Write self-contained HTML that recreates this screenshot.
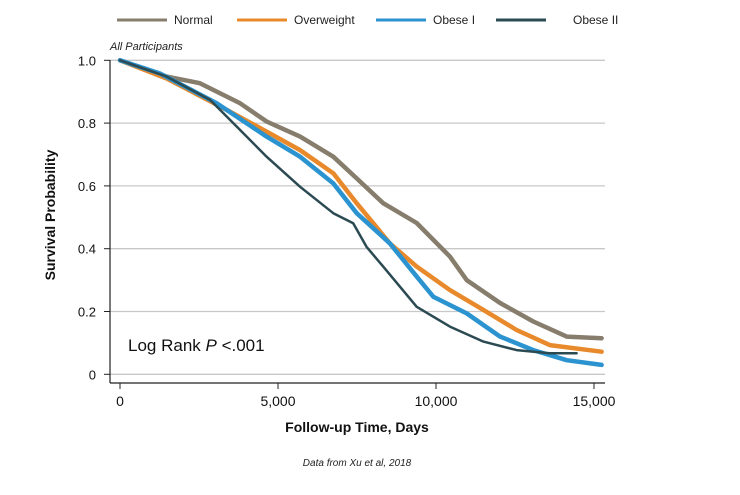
<!DOCTYPE html>
<html><head><meta charset="utf-8"><style>
body{margin:0;background:#fff;}
svg text{font-family:"Liberation Sans",Arial,sans-serif;}
</style></head><body>
<svg width="740" height="490" viewBox="0 0 740 490">
<g id="legend"></g>
<text x="110" y="50" font-size="11" font-style="italic" fill="#222">All Participants</text>
<g id="grid"></g>
<g id="yticks"></g>
<g id="xticks"></g>
<g id="series"></g>
<text x="128" y="351" font-size="17" fill="#111">Log Rank <tspan font-style="italic">P</tspan> &lt;.001</text>
<text x="55" y="215" font-size="14" font-weight="bold" fill="#111" text-anchor="middle" transform="rotate(-90 55 215)">Survival Probability</text>
<text x="357" y="432" font-size="14" font-weight="bold" fill="#111" text-anchor="middle">Follow-up Time, Days</text>
<text x="357" y="466" font-size="10" font-style="italic" fill="#222" text-anchor="middle">Data from Xu et al, 2018</text>
</svg>
<script>
const seriesNames = ["Normal","Overweight","Obese I","Obese II"];
const seriesColors = ["#877d6c","#e8892b","#2b93cf","#2b4a52"];
const yTicks = [0,0.2,0.4,0.6,0.8,1.0];
const yTickLabels = ["0","0.2","0.4","0.6","0.8","1.0"];
const xTicks = [0,5000,10000,15000];
const xTickLabels = ["0","5,000","10,000","15,000"];
const normalDays = [0,1477,2530,3800,4640,5700,6750,7490,8330,9390,10440,10970,12030,13080,14135,15240];
const normalSurv = [1.0,0.948,0.927,0.863,0.805,0.757,0.693,0.624,0.545,0.482,0.375,0.30,0.227,0.168,0.12,0.115];
const overDays = [0,1477,3376,4640,5700,6750,7490,8540,9390,10440,11500,12550,13600,15240];
const overSurv = [1.0,0.942,0.842,0.773,0.714,0.64,0.545,0.417,0.343,0.268,0.205,0.141,0.093,0.072];
const ob1Days = [0,1266,3060,4640,5700,6750,7490,8540,9390,9915,10970,12030,13080,14135,15240];
const ob1Surv = [1.0,0.958,0.863,0.757,0.693,0.608,0.513,0.417,0.311,0.247,0.194,0.12,0.077,0.045,0.03];
const ob2Days = [0,1477,2850,3585,4640,5700,6750,7380,7800,8330,9390,10440,11500,12550,13600,14450];
const ob2Surv = [1.0,0.948,0.874,0.80,0.693,0.597,0.513,0.481,0.406,0.343,0.215,0.152,0.104,0.077,0.067,0.067];

const NS="http://www.w3.org/2000/svg";
const X0=120,XS=474/15000,Y0=374.3,YS=314;
const xs=d=>X0+d*XS, ys=v=>Y0-v*YS;
function mk(t,a,p){const e=document.createElementNS(NS,t);for(const k in a)e.setAttribute(k,a[k]);p.appendChild(e);return e;}

const grid=document.getElementById('grid');
yTicks.forEach((v,i)=>{
  const l=mk('line',{x1:110,x2:605,y1:ys(v),y2:ys(v),stroke:'#c8c8c8','stroke-width':1.3},grid);
  
  
});
const ya=document.getElementById('yticks');
const yl=mk('line',{x1:110,x2:110,y1:60,y2:383,stroke:'#222','stroke-width':1.2},ya);


yTicks.forEach((v,i)=>{
  const tk=mk('line',{x1:104,x2:110,y1:ys(v),y2:ys(v),stroke:'#222'},ya);
  
  
  const t=mk('text',{x:96,y:ys(v)+5,'font-size':13,'text-anchor':'end',fill:'#111'},ya);
  t.textContent=yTickLabels[i];
  
  
});
const xa=document.getElementById('xticks');
const xl=mk('line',{x1:110,x2:605,y1:383,y2:383,stroke:'#222','stroke-width':1.2},xa);


xTicks.forEach((d,i)=>{
  const tk=mk('line',{x1:xs(d),x2:xs(d),y1:383,y2:389,stroke:'#222'},xa);
  
  
  const t=mk('text',{x:xs(d),y:406,'font-size':14,'text-anchor':'middle',fill:'#111'},xa);
  t.textContent=xTickLabels[i];
  
  
});
const sg=document.getElementById('series');
const data=[[normalDays,normalSurv],[overDays,overSurv],[ob1Days,ob1Surv],[ob2Days,ob2Surv]];
const widths=[4.5,4.5,4.5,2.5];
data.forEach((s,i)=>{
  const pts=s[0].map((d,j)=>xs(d).toFixed(1)+','+ys(s[1][j]).toFixed(1)).join(' ');
  const p=mk('polyline',{points:pts,fill:'none',stroke:seriesColors[i],'stroke-width':widths[i],'stroke-linejoin':'round','stroke-linecap':'round'},sg);
  
  
});
const lg=document.getElementById('legend');
const lx=[117,237,376,496];
seriesNames.forEach((n,i)=>{
  const l=mk('line',{x1:lx[i],x2:lx[i]+50,y1:20,y2:20,stroke:seriesColors[i],'stroke-width':3},lg);
  
  
  const t=mk('text',{x:lx[i]+57+(i==3?20:0),y:24,'font-size':12,fill:'#222'},lg);
  t.textContent=n;
  
  
});
</script>
</body></html>
